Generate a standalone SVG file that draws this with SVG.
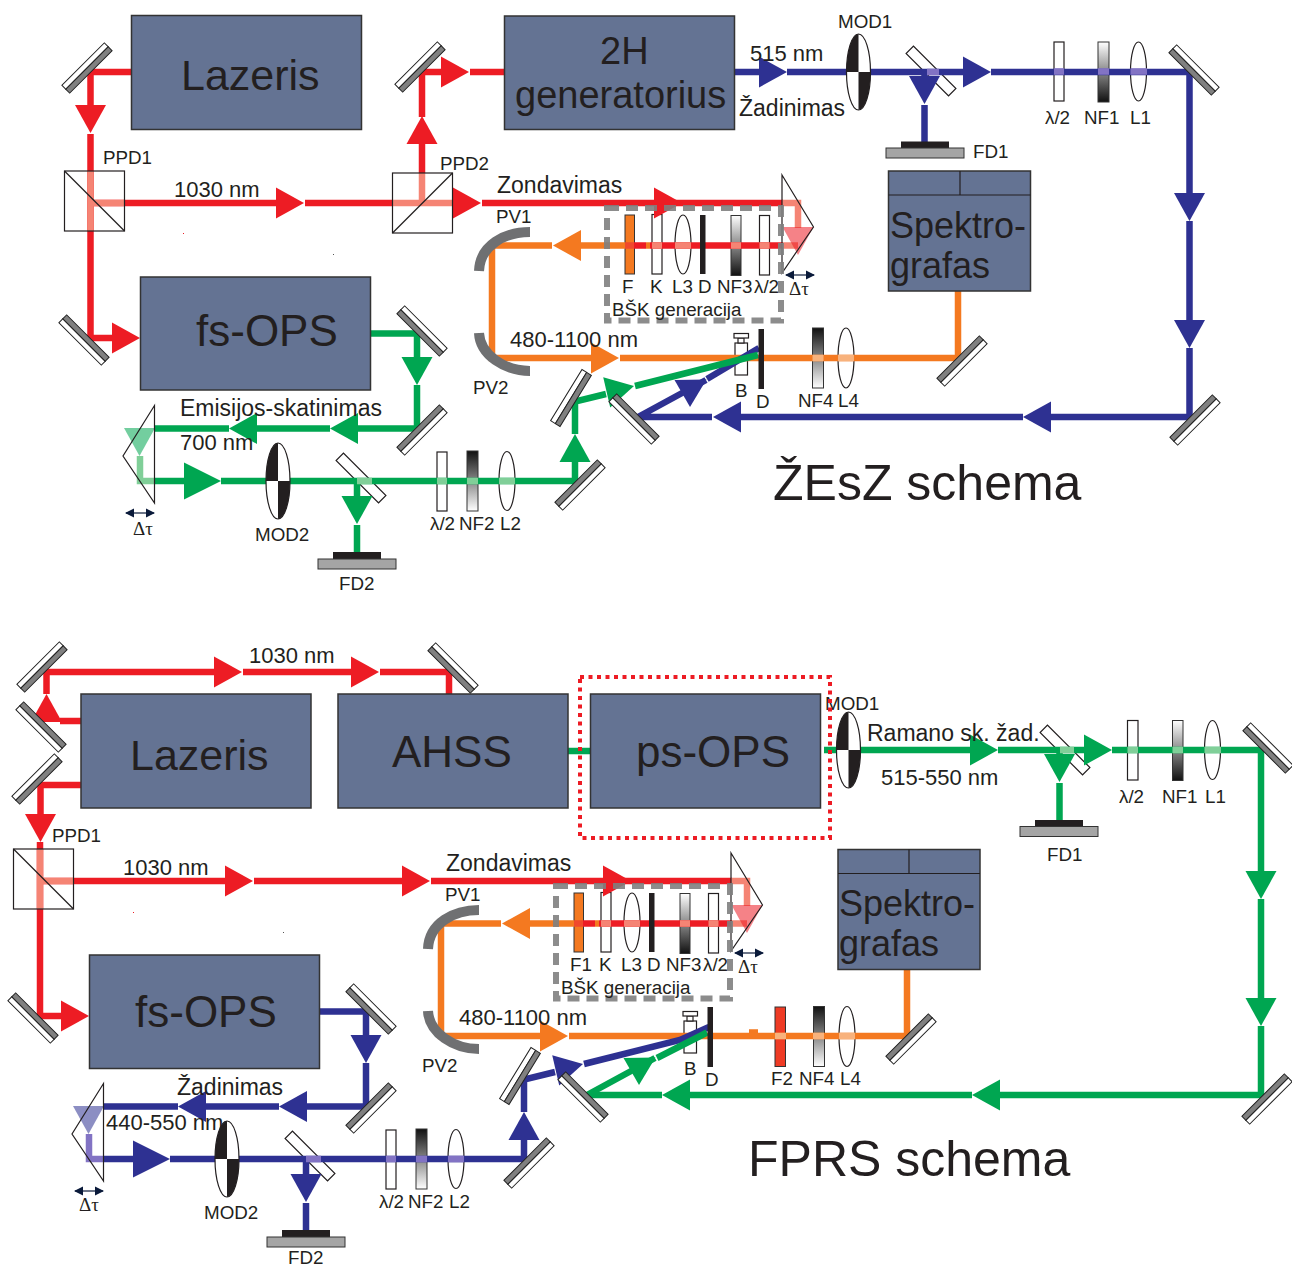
<svg xmlns="http://www.w3.org/2000/svg" xmlns:xlink="http://www.w3.org/1999/xlink" width="1292" height="1268" viewBox="0 0 1292 1268">
<style>
text{font-family:"Liberation Sans",Arial,sans-serif;fill:#231f20;font-size:18.8px}
.m{font-size:22px}.z{font-size:23px}.l{font-size:43px}.l2{font-size:44px}.g2{font-size:38px}.sp{font-size:36px}.h{font-size:50px}
.sy{font-family:"Liberation Serif","DejaVu Serif",serif;font-size:19px}
.b{fill:none;stroke-width:6.5;stroke-linejoin:miter}
.red{stroke:#ed1c24;fill:#ed1c24}.blue{stroke:#2e3192;fill:#2e3192}.green{stroke:#00a651;fill:#00a651}.orange{stroke:#f47920;fill:#f47920}
.lr{stroke:#f58474}.lb{stroke:#8273c4}.lg{stroke:#80cf98}.lo{stroke:#f8b27c}
.ghost{opacity:.55}
.o{fill:#fff;stroke:#231f20;stroke-width:1.2}
.box{fill:#647393;stroke:#333;stroke-width:1.5}
.thin{fill:none;stroke:#231f20;stroke-width:1.2}
.k{fill:#231f20}.gy{fill:#a5a5a5;stroke:#333;stroke-width:1}
.arc{fill:none;stroke:#6f7072;stroke-width:10}
.dash{fill:none;stroke:#808080;stroke-width:6;stroke-dasharray:12 7;opacity:.9}
.dot{fill:none;stroke:#ed1c24;stroke-width:4;stroke-dasharray:4 4.5}
.dt{fill:none;stroke:#0a1a3a;stroke-width:1.2}
</style>
<defs>
<linearGradient id="wk" x1="0" y1="0" x2="0" y2="1"><stop offset="0" stop-color="#fff"/><stop offset="1" stop-color="#111"/></linearGradient>
<linearGradient id="kw" x1="0" y1="0" x2="0" y2="1"><stop offset="0" stop-color="#111"/><stop offset="1" stop-color="#fff"/></linearGradient>
<polygon id="ar" points="0,0 -28,-15.5 -28,15.5" style="stroke:none"/>
<polygon id="arb" points="0,0 -37,-18.5 -37,18.5" style="stroke:none"/>
<g id="mir"><rect x="-30" y="-5.5" width="60" height="5.5" fill="#fff" stroke="#222" stroke-width="1"/><rect x="-30" y="0" width="60" height="5.5" fill="#808080" stroke="#222" stroke-width="1"/></g>
<g id="mod"><ellipse rx="12" ry="38" class="o"/><path class="k" d="M0-38A12 38 0 0 0-12 0H0ZM0 38A12 38 0 0 0 12 0H0Z"/></g>
<rect id="plate" x="-30" y="-5.2" width="60" height="10.4" class="o"/>
<g id="dtau"><path class="dt" d="M-14 0H14"/><polygon fill="#0a1a3a" points="-15,0 -6,-4.5 -6,4.5"/><polygon fill="#0a1a3a" points="15,0 6,-4.5 6,4.5"/></g>
</defs>
<rect width="1292" height="1268" fill="#fff"/>

<!-- ŽEsZ: optics under the beams -->
<g id="t-optics">
<g id="t-hwp1"><rect x="1054" y="42" width="10" height="59" class="o"/><text x="1045" y="124">λ/2</text></g>
<g id="t-nf1"><rect x="1098" y="42" width="11" height="60" fill="url(#wk)" stroke="#333"/><text x="1084" y="124">NF1</text></g>
<g id="t-l1"><ellipse cx="1138.5" cy="71.5" rx="8" ry="29.5" class="o"/><text x="1130" y="124">L1</text></g>
<g id="t-split1"><use xlink:href="#plate" transform="translate(931 71) rotate(45)"/></g>
<g id="t-f"><rect x="625" y="215" width="9.500" height="59" fill="#f47920" stroke="#333"/><text x="622" y="293">F</text></g>
<g id="t-k"><rect x="652" y="214.500" width="10" height="59.500" class="o"/><text x="650" y="293">K</text></g>
<g id="t-l3"><ellipse cx="683" cy="244.500" rx="8" ry="29.500" class="o"/><text x="672" y="293">L3</text></g>
<g id="t-nf3"><rect x="731" y="215.500" width="10" height="60" fill="url(#wk)" stroke="#333"/><text x="717" y="293">NF3</text></g>
<g id="t-hwp3"><rect x="759.500" y="215.500" width="10" height="59.500" class="o"/><text x="754" y="293">λ/2</text></g>
<g id="t-cuv"><rect x="735" y="343" width="12.500" height="32" class="o"/><rect x="738" y="338" width="6" height="5" class="o"/><rect x="734" y="333.500" width="14.500" height="4.500" class="o"/><text x="735" y="397">B</text></g>
<g id="t-nf4"><rect x="812.500" y="328" width="11" height="60" fill="url(#kw)" stroke="#333"/><text x="798" y="407">NF4</text></g>
<g id="t-l4"><ellipse cx="846" cy="358" rx="8" ry="30" class="o"/><text x="838" y="407">L4</text></g>
<g id="t-hwp2"><rect x="437" y="452" width="10" height="59" class="o"/><text x="430" y="530">λ/2</text></g>
<g id="t-nf2"><rect x="467" y="451" width="11" height="60" fill="url(#kw)" stroke="#333"/><text x="459" y="530">NF2</text></g>
<g id="t-l2"><ellipse cx="507" cy="481" rx="8" ry="29.500" class="o"/><text x="500" y="530">L2</text></g>
<g id="t-split2"><use xlink:href="#plate" transform="translate(361 478) rotate(45)"/></g>
</g>

<!-- ŽEsZ: beams -->
<g id="t-connectors">
<g class="orange"><path class="b" d="M958 291V358H620M591 358H492V245.500H552M581 245.500H625M646 245.500H650"/><use xlink:href="#ar" transform="translate(619 358)"/><use xlink:href="#ar" transform="translate(553 245.500) rotate(180)"/></g>
<g class="red"><path class="b" d="M131 72H90.500V106M90.500 134V338H113M91 203H277M305 203H392M452 203H454M482 203H783M422 173V144M422 117V72H442M470 72H504M634 245.500H646M650 245.500H783"/>
<use xlink:href="#ar" transform="translate(90.500 133) rotate(90)"/><use xlink:href="#ar" transform="translate(140 338)"/><use xlink:href="#ar" transform="translate(304 203)"/><use xlink:href="#ar" transform="translate(481 203)"/><use xlink:href="#ar" transform="translate(682 203)"/><use xlink:href="#ar" transform="translate(422 116) rotate(-90)"/><use xlink:href="#ar" transform="translate(469 72)"/></g>
<path class="b" stroke="#f0492c" d="M625 245.500H634"/>
<path class="b lr" d="M90.500 171V231M91 203H124M392 203H452M422 203V173M782 203H798V228M782 245.500H798M652 245.500H662M675 245.500H691M731 245.500H741M759.500 245.500H769.500"/>
<use xlink:href="#ar" class="red ghost" transform="translate(798 255) rotate(90)"/>
<g class="blue"><path class="b" d="M734 72H759M787 72H964M991 72H1189.500V194M1189.500 221V321M1189.500 348V417H1051M1023 417H741M712 417H638L706 380M707 379L759 348M924.500 72V77M924.500 105V142"/>
<use xlink:href="#ar" transform="translate(787 72)"/><use xlink:href="#ar" transform="translate(991 72)"/><use xlink:href="#ar" transform="translate(1189.500 221) rotate(90)"/><use xlink:href="#ar" transform="translate(1189.500 348) rotate(90)"/><use xlink:href="#ar" transform="translate(1023 417) rotate(180)"/><use xlink:href="#ar" transform="translate(713 417) rotate(180)"/><use xlink:href="#ar" transform="translate(706.500 379.500) rotate(-30)"/><use xlink:href="#ar" transform="translate(924.500 104) rotate(90)"/></g>
<path class="b lb" d="M1054 71.500H1064M1098 71.500H1109M1130.500 71.500H1147M927 72H939"/>
<g class="green"><path class="b" d="M370 333.500H417V358M417 385V428.500H358M330 428.500H257M229 428.500H155M155 481H184M221 481H575V462M575 434V401.500L606 394M635 386L758 355M357 481V497M357 525V552"/>
<use xlink:href="#ar" transform="translate(417 385) rotate(90)"/><use xlink:href="#ar" transform="translate(330 428.500) rotate(180)"/><use xlink:href="#ar" transform="translate(229 428.500) rotate(180)"/><use xlink:href="#arb" transform="translate(221 481)"/><use xlink:href="#ar" transform="translate(575 434) rotate(-90)"/><use xlink:href="#ar" transform="translate(634 386) rotate(-13)"/><use xlink:href="#ar" transform="translate(357 524) rotate(90)"/></g>
<use xlink:href="#ar" class="green ghost" transform="translate(139.500 456) rotate(90)"/>
<path class="b lg" d="M140 456V481H155M437 481H447M467 481H478M499 481H515M357 481H372"/>
<path class="b lo" d="M812.500 358H823.500M838 358H854"/>
</g>

<!-- ŽEsZ: nodes -->
<g id="t-nodes">
<g id="t-lazeris"><rect x="131.500" y="15.500" width="230" height="114" class="box"/><text x="181" y="90" class="l">Lazeris</text></g>
<g id="t-2h"><rect x="504.500" y="16" width="230" height="113.500" class="box"/><text x="600" y="64" class="g2">2H</text><text x="515" y="108" class="g2">generatorius</text></g>
<g id="t-fsops"><rect x="140.500" y="277" width="230" height="113" class="box"/><text x="196" y="346" class="l2">fs-OPS</text></g>
<g id="t-spektro"><rect x="888.500" y="171" width="142" height="120" class="box"/><path class="thin" d="M888.500 195H1030.500M960 171V195"/><text x="890" y="238" class="sp">Spektro-</text><text x="890" y="278" class="sp">grafas</text></g>
<use id="t-m1" xlink:href="#mir" transform="translate(87 68) rotate(-45)"/>
<use id="t-m2" xlink:href="#mir" transform="translate(420 67) rotate(-45)"/>
<use id="t-m3" xlink:href="#mir" transform="translate(84 340) rotate(225)"/>
<use id="t-m4" xlink:href="#mir" transform="translate(422 331) rotate(45)"/>
<use id="t-m5" xlink:href="#mir" transform="translate(422 430) rotate(135)"/>
<use id="t-m6" xlink:href="#mir" transform="translate(1194 70) rotate(45)"/>
<use id="t-m7" xlink:href="#mir" transform="translate(1195 420) rotate(135)"/>
<use id="t-m8" xlink:href="#mir" transform="translate(962 361) rotate(135)"/>
<use id="t-m9" xlink:href="#mir" transform="translate(634 419) rotate(225)"/>
<use id="t-m10" xlink:href="#mir" transform="translate(571 398) rotate(-58.500)"/>
<use id="t-m11" xlink:href="#mir" transform="translate(580 485) rotate(135)"/>
<g id="t-ppd1"><rect x="64.500" y="171" width="60" height="60" class="thin"/><path class="thin" d="M64.500 171L124.500 231"/><text x="103" y="164">PPD1</text></g>
<g id="t-ppd2"><rect x="392.500" y="173" width="60" height="60" class="thin"/><path class="thin" d="M392.500 233L452.500 173"/><text x="440" y="170">PPD2</text></g>
<g id="t-mod1"><use xlink:href="#mod" transform="translate(858.500 72)"/><text x="838" y="28">MOD1</text></g>
<g id="t-mod2"><use xlink:href="#mod" transform="translate(278 481)"/><text x="255" y="541">MOD2</text></g>
<g id="t-fd1"><rect x="901" y="141.500" width="48" height="6.500" class="k"/><rect x="886" y="148" width="78" height="10" class="gy"/><text x="973" y="158">FD1</text></g>
<g id="t-fd2"><rect x="333" y="552" width="48" height="7" class="k"/><rect x="318" y="559" width="78" height="10" class="gy"/><text x="339" y="590">FD2</text></g>
<g id="t-d1"><rect x="700" y="215" width="5.500" height="59" class="k"/><text x="698" y="293">D</text></g>
<g id="t-d2"><rect x="758.500" y="329" width="5.500" height="60" class="k"/><text x="756" y="408">D</text></g>
<g id="t-pv1"><path class="arc" d="M530 232C505 232 480 245 479 271"/><text x="496" y="223">PV1</text></g>
<g id="t-pv2"><path class="arc" d="M479 333C480 355 505 371 530 371"/><text x="473" y="394">PV2</text></g>
<g id="t-prism1"><path class="thin" d="M782 175L813.500 227L782 273Z"/><use xlink:href="#dtau" transform="translate(800 275)"/><text x="789" y="295" class="sy">Δτ</text></g>
<g id="t-prism2"><path class="thin" d="M154.500 405.500L123 456L154.500 503Z"/><use xlink:href="#dtau" transform="translate(140 513)"/><text x="133" y="535" class="sy">Δτ</text></g>
<rect id="t-bsk" x="607" y="208" width="174" height="112.500" class="dash"/>
</g>
<g id="t-labels">
<text x="174" y="197" class="m">1030 nm</text>
<text x="497" y="193" class="z">Zondavimas</text>
<text x="750" y="61" class="m">515 nm</text>
<text x="739" y="116" class="z">Žadinimas</text>
<text x="612" y="316">BŠK generacija</text>
<text x="510" y="347" class="m">480-1100 nm</text>
<text x="180" y="416" class="z">Emisijos-skatinimas</text>
<text x="180" y="450" class="m">700 nm</text>
<text x="773" y="500" class="h">ŽEsZ schema</text>
</g>
<rect x="183" y="233" width="1" height="1" fill="#ed1c24"/><rect x="333" y="254" width="1" height="1" fill="#555"/>

<!-- FPRS: optics under the beams -->
<g id="b-optics">
<g id="b-hwp1"><rect x="1127.500" y="720.500" width="10.500" height="59.500" class="o"/><text x="1119" y="803">λ/2</text></g>
<g id="b-nf1"><rect x="1172.500" y="720.500" width="10.500" height="60" fill="url(#wk)" stroke="#333"/><text x="1162" y="803">NF1</text></g>
<g id="b-l1"><ellipse cx="1212.500" cy="750" rx="8" ry="29.500" class="o"/><text x="1205" y="803">L1</text></g>
<g id="b-split1"><use xlink:href="#plate" transform="translate(1065 750) rotate(45)"/></g>
<g id="b-f2"><rect x="775" y="1007" width="10.500" height="59.500" fill="#ef3b24" stroke="#333"/><text x="771" y="1085">F2</text></g>
<g id="b-nf4"><rect x="813.500" y="1006.500" width="11" height="60" fill="url(#kw)" stroke="#333"/><text x="799" y="1085">NF4</text></g>
<g id="b-l4"><ellipse cx="847" cy="1036.500" rx="8" ry="30" class="o"/><text x="840" y="1085">L4</text></g>
<g transform="translate(-51 678)">
<g id="b-f"><rect x="625" y="215" width="9.500" height="59" fill="#f47920" stroke="#333"/><text x="621" y="293">F1</text></g>
<g id="b-k"><rect x="652" y="214.500" width="10" height="59.500" class="o"/><text x="650" y="293">K</text></g>
<g id="b-l3"><ellipse cx="683" cy="244.500" rx="8" ry="29.500" class="o"/><text x="672" y="293">L3</text></g>
<g id="b-nf3"><rect x="731" y="215.500" width="10" height="60" fill="url(#wk)" stroke="#333"/><text x="717" y="293">NF3</text></g>
<g id="b-hwp3"><rect x="759.500" y="215.500" width="10" height="59.500" class="o"/><text x="754" y="293">λ/2</text></g>
<g id="b-cuv"><rect x="735" y="343" width="12.500" height="32" class="o"/><rect x="738" y="338" width="6" height="5" class="o"/><rect x="734" y="333.500" width="14.500" height="4.500" class="o"/><text x="735" y="397">B</text></g>
<g id="b-hwp2"><rect x="437" y="452" width="10" height="59" class="o"/><text x="430" y="530">λ/2</text></g>
<g id="b-nf2"><rect x="467" y="451" width="11" height="60" fill="url(#kw)" stroke="#333"/><text x="459" y="530">NF2</text></g>
<g id="b-l2"><ellipse cx="507" cy="481" rx="8" ry="29.500" class="o"/><text x="500" y="530">L2</text></g>
<g id="b-split2"><use xlink:href="#plate" transform="translate(361 478) rotate(45)"/></g>
</g>
</g>

<!-- FPRS: beams -->
<g id="b-connectors">
<g class="red"><path class="b" d="M81 721H60M46.500 694V672H214M243 672H352M380 672H449V694M81 785H40.500V818"/>
<use xlink:href="#ar" transform="translate(46.500 694) rotate(-90)"/><use xlink:href="#ar" transform="translate(242 672)"/><use xlink:href="#ar" transform="translate(379 672)"/><use xlink:href="#ar" transform="translate(40.500 842) rotate(90)"/></g>
<g transform="translate(-51 678)">
<g class="orange"><path class="b" d="M958 291V358H620M591 358H492V245.500H552M581 245.500H625M646 245.500H650M800 354.500H809"/><use xlink:href="#ar" transform="translate(619 358)"/><use xlink:href="#ar" transform="translate(553 245.500) rotate(180)"/></g>
<g class="red"><path class="b" d="M91 164V338H113M91 203H277M305 203H454M482 203H783M634 245.500H646M650 245.500H783"/>
<use xlink:href="#ar" transform="translate(140 338)"/><use xlink:href="#ar" transform="translate(304 203)"/><use xlink:href="#ar" transform="translate(481 203)"/><use xlink:href="#ar" transform="translate(682 203)"/></g>
<path class="b" stroke="#f0492c" d="M625 245.500H634"/>
<path class="b lr" d="M91 171V231M91 203H124M782 203H798V228M782 245.500H798M652 245.500H662M675 245.500H691M731 245.500H741M759.500 245.500H769.500"/>
<use xlink:href="#ar" class="red ghost" transform="translate(798 255) rotate(90)"/>
<g class="blue"><path class="b" d="M370 333.500H417V358M417 385V428.500H358M330 428.500H257M229 428.500H155M155 481H184M221 481H575V462M575 434V401.500L606 394M635 386L731 362L760 349M357 481V497M357 525V552"/>
<use xlink:href="#ar" transform="translate(417 385) rotate(90)"/><use xlink:href="#ar" transform="translate(330 428.500) rotate(180)"/><use xlink:href="#ar" transform="translate(229 428.500) rotate(180)"/><use xlink:href="#arb" transform="translate(221 481)"/><use xlink:href="#ar" transform="translate(575 434) rotate(-90)"/><use xlink:href="#ar" transform="translate(634 386) rotate(-13)"/><use xlink:href="#ar" transform="translate(357 524) rotate(90)"/></g>
<use xlink:href="#ar" class="blue ghost" transform="translate(139.500 456) rotate(90)"/>
<path class="b lb" d="M140 456V481H155M437 481H447M467 481H478M499 481H515M357 481H372"/>
<path class="b green" d="M638 417L706 380M708 380L758 354.500"/>
<use xlink:href="#ar" class="green" transform="translate(706.500 379.500) rotate(-30)"/>
<path class="b lo" d="M826 358H837M864 358H875M890 358H906"/>
</g>
<g class="green"><path class="b" d="M568 751H590M824 750H971M998 750H1084M1112 750H1261V872M1261 899V998M1261 1026V1095H1000M972 1095H690M662 1095H587M1059.500 750V756M1059.500 783V820"/>
<use xlink:href="#ar" transform="translate(998 750)"/><use xlink:href="#ar" transform="translate(1112 750)"/><use xlink:href="#ar" transform="translate(1261 899) rotate(90)"/><use xlink:href="#ar" transform="translate(1261 1026) rotate(90)"/><use xlink:href="#ar" transform="translate(972 1095) rotate(180)"/><use xlink:href="#ar" transform="translate(662 1095) rotate(180)"/><use xlink:href="#ar" transform="translate(1059.500 782) rotate(90)"/></g>
<path class="b lg" d="M1127.500 750H1138M1172.500 750H1183M1204.500 750H1221M1060 750H1074"/>
</g>

<!-- FPRS: nodes -->
<g id="b-nodes">
<g id="b-lazeris"><rect x="81" y="694" width="230" height="114" class="box"/><text x="130" y="770" class="l">Lazeris</text></g>
<g id="b-ahss"><rect x="338" y="694" width="230" height="114" class="box"/><text x="392" y="767" class="l2">AHSS</text></g>
<g id="b-psops"><rect x="590.500" y="694" width="230" height="114" class="box"/><text x="636" y="767" class="l2">ps-OPS</text></g>
<g id="b-fsops"><rect x="89.500" y="955" width="230" height="113.500" class="box"/><text x="135" y="1027" class="l2">fs-OPS</text></g>
<g id="b-spektro"><rect x="838" y="849.500" width="142" height="120" class="box"/><path class="thin" d="M838 873.500H980M909 849.500V873.500"/><text x="839" y="916" class="sp">Spektro-</text><text x="839" y="956" class="sp">grafas</text></g>
<use id="b-ma" xlink:href="#mir" transform="translate(42 667) rotate(-45)"/>
<use id="b-mb" xlink:href="#mir" transform="translate(41 727) rotate(225)"/>
<use id="b-mc" xlink:href="#mir" transform="translate(37 779) rotate(-45)"/>
<use id="b-md" xlink:href="#mir" transform="translate(453 668) rotate(45)"/>
<use id="b-m6" xlink:href="#mir" transform="translate(1268 748) rotate(45)"/>
<use id="b-m7" xlink:href="#mir" transform="translate(1267 1099) rotate(135)"/>
<g transform="translate(-51 678)">
<use id="b-m3" xlink:href="#mir" transform="translate(84 340) rotate(225)"/>
<use id="b-m4" xlink:href="#mir" transform="translate(422 331) rotate(45)"/>
<use id="b-m5" xlink:href="#mir" transform="translate(422 430) rotate(135)"/>
<use id="b-m8" xlink:href="#mir" transform="translate(962 361) rotate(135)"/>
<use id="b-m9" xlink:href="#mir" transform="translate(634 419) rotate(225)"/>
<use id="b-m10" xlink:href="#mir" transform="translate(571 398) rotate(-58.500)"/>
<use id="b-m11" xlink:href="#mir" transform="translate(580 485) rotate(135)"/>
<g id="b-ppd1"><rect x="64.500" y="171" width="60" height="60" class="thin"/><path class="thin" d="M64.500 171L124.500 231"/><text x="103" y="164">PPD1</text></g>
<g id="b-mod2"><use xlink:href="#mod" transform="translate(278 481)"/><text x="255" y="541">MOD2</text></g>
<g id="b-fd2"><rect x="333" y="552" width="48" height="7" class="k"/><rect x="318" y="559" width="78" height="10" class="gy"/><text x="339" y="586">FD2</text></g>
<g id="b-d1"><rect x="700" y="215" width="5.500" height="59" class="k"/><text x="698" y="293">D</text></g>
<g id="b-d2"><rect x="758.500" y="329" width="5.500" height="60" class="k"/><text x="756" y="408">D</text></g>
<g id="b-pv1"><path class="arc" d="M530 232C505 232 480 245 479 271"/><text x="496" y="223">PV1</text></g>
<g id="b-pv2"><path class="arc" d="M479 333C480 355 505 371 530 371"/><text x="473" y="394">PV2</text></g>
<g id="b-prism1"><path class="thin" d="M782 175L813.500 227L782 273Z"/><use xlink:href="#dtau" transform="translate(800 275)"/><text x="789" y="295" class="sy">Δτ</text></g>
<g id="b-prism2"><path class="thin" d="M154.500 405.500L123 456L154.500 503Z"/><use xlink:href="#dtau" transform="translate(140 513)"/><text x="130" y="533" class="sy">Δτ</text></g>
<rect id="b-bsk" x="607" y="208" width="174" height="112.500" class="dash"/>
</g>
<g id="b-mod1"><use xlink:href="#mod" transform="translate(848.500 750)"/><text x="825" y="710">MOD1</text></g>
<g id="b-fd1"><rect x="1035" y="820" width="48" height="6.500" class="k"/><rect x="1020" y="826.500" width="78" height="10" class="gy"/><text x="1047" y="861">FD1</text></g>
<rect id="b-ps-frame" x="580" y="677" width="250" height="161" class="dot"/>
</g>
<g id="b-labels">
<text x="249" y="663" class="m">1030 nm</text>
<text x="123" y="875" class="m">1030 nm</text>
<text x="446" y="871" class="z">Zondavimas</text>
<text x="867" y="741" class="z">Ramano sk. žad.</text>
<text x="881" y="785" class="m">515-550 nm</text>
<text x="561" y="994">BŠK generacija</text>
<text x="459" y="1025" class="m">480-1100 nm</text>
<text x="177" y="1095" class="z">Žadinimas</text>
<text x="106" y="1130" class="m">440-550 nm</text>
<text x="748" y="1176" class="h">FPRS schema</text>
</g>
<rect x="133" y="912" width="1" height="1" fill="#ed1c24"/><rect x="283" y="932" width="1" height="1" fill="#555"/>
</svg>
